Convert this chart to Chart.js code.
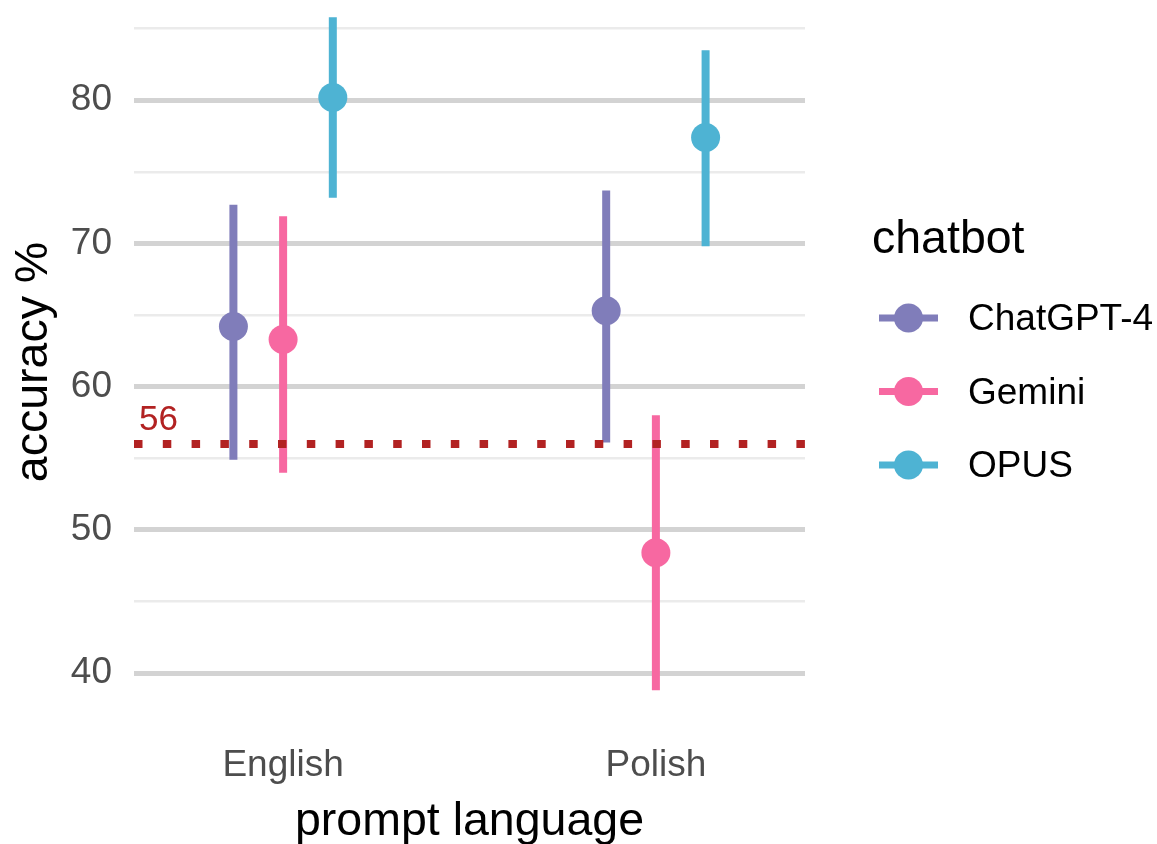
<!DOCTYPE html>
<html>
<head>
<meta charset="utf-8">
<script src="https://cdn.jsdelivr.net/npm/chart.js@4/dist/chart.umd.min.js"></script>
<style>
  body { margin: 0; background: #fff; }
  #wrap { width: 1157px; height: 844px; }
</style>
</head>
<body>
<div id="wrap"><canvas id="chart" width="1157" height="844"></canvas></div>
<script>
// data
const languages = ['English', 'Polish'];
const chatbots = ['ChatGPT-4', 'Gemini', 'OPUS'];
const botColors = ['#807dba', '#f768a1', '#4eb3d3'];

const chatgptMean = [64.2, 65.3];
const chatgptLow  = [54.9, 56.1];
const chatgptHigh = [72.7, 73.7];

const geminiMean = [63.3, 48.4];
const geminiLow  = [54.0, 38.8];
const geminiHigh = [71.9, 58.0];

const opusMean = [80.2, 77.4];
const opusLow  = [73.2, 69.8];
const opusHigh = [85.8, 83.5];

const yTicks = [40, 45, 50, 55, 60, 65, 70, 75, 80, 85];
const threshold = 56;

const means = [chatgptMean, geminiMean, opusMean];
const lows = [chatgptLow, geminiLow, opusLow];
const highs = [chatgptHigh, geminiHigh, opusHigh];

const FONT = '"Liberation Sans", Arial, sans-serif';

// dodge, like position_dodge(0.4)
const dodge = 0.4;
function xPos(langIdx, botIdx) {
  return langIdx + 1 + (botIdx - 1) * dodge / 3;
}

const datasets = [];
// points on top
chatbots.forEach((bot, b) => {
  datasets.push({
    label: bot,
    order: 0,
    data: languages.map((l, i) => ({ x: xPos(i, b), y: means[b][i] })),
    showLine: false,
    pointRadius: 14.5,
    pointBorderWidth: 0,
    pointBackgroundColor: botColors[b],
    backgroundColor: botColors[b]
  });
});
// threshold line
datasets.push({
  label: 'threshold',
  order: 1,
  data: [{ x: 0.6, y: threshold }, { x: 2.4, y: threshold }],
  showLine: true,
  borderColor: '#b22222',
  borderWidth: 8,
  borderDash: [8.5, 20.3],
  borderCapStyle: 'butt',
  pointRadius: 0
});
// error bars
chatbots.forEach((bot, b) => {
  const pts = [];
  languages.forEach((l, i) => {
    pts.push({ x: xPos(i, b), y: lows[b][i] });
    pts.push({ x: xPos(i, b), y: highs[b][i] });
    pts.push({ x: xPos(i, b), y: null });
  });
  datasets.push({
    label: bot + ' range',
    order: 2,
    data: pts,
    showLine: true,
    spanGaps: false,
    borderColor: botColors[b],
    borderWidth: 8,
    borderCapStyle: 'butt',
    pointRadius: 0
  });
});

// label for the threshold + legend on the right
const extras = {
  id: 'extras',
  afterDraw(chart) {
    const ctx = chart.ctx;
    const y = chart.scales.y;
    const area = chart.chartArea;
    ctx.save();
    ctx.fillStyle = '#b22222';
    ctx.font = '35px ' + FONT;
    ctx.textAlign = 'left';
    ctx.textBaseline = 'alphabetic';
    ctx.fillText(String(threshold), area.left + 5, y.getPixelForValue(threshold) - 14);

    // legend
    ctx.fillStyle = '#000';
    ctx.font = '46.5px ' + FONT;
    ctx.fillText('chatbot', 872, 253);
    ctx.font = '37px ' + FONT;
    ctx.textBaseline = 'middle';
    chatbots.forEach((bot, b) => {
      const cy = 318 + b * 73.5;
      ctx.strokeStyle = botColors[b];
      ctx.lineWidth = 7;
      ctx.beginPath();
      ctx.moveTo(879, cy);
      ctx.lineTo(938, cy);
      ctx.stroke();
      ctx.fillStyle = botColors[b];
      ctx.beginPath();
      ctx.arc(908.5, cy, 14.5, 0, Math.PI * 2);
      ctx.fill();
      ctx.fillStyle = '#000';
      ctx.fillText(bot, 968, cy + 2);
    });
    ctx.restore();
  }
};

new Chart(document.getElementById('chart').getContext('2d'), {
  type: 'scatter',
  data: { datasets: datasets },
  plugins: [extras],
  options: {
    responsive: false,
    animation: false,
    events: [],
    layout: { autoPadding: false, padding: { top: 0, right: 352, bottom: 0, left: 0 } },
    plugins: {
      legend: { display: false },
      tooltip: { enabled: false }
    },
    scales: {
      x: {
        type: 'linear',
        min: 0.6,
        max: 2.4,
        afterBuildTicks: (scale) => { scale.ticks = languages.map((l, i) => ({ value: i + 1 })); },
        afterFit: (scale) => {
          scale.height = 120;
          scale.paddingLeft = 0;
          scale.paddingRight = 0;
        },
        grid: { display: false, drawTicks: false },
        border: { display: false },
        ticks: {
          padding: 20,
          color: '#4d4d4d',
          font: { family: FONT, size: 37 },
          callback: (v) => languages[Math.round(v) - 1]
        },
        title: {
          display: true,
          text: 'prompt language',
          color: '#000',
          font: { family: FONT, size: 46.5 },
          padding: { top: 0, bottom: -6 }
        }
      },
      y: {
        type: 'linear',
        min: 36.45,
        max: 87,
        afterBuildTicks: (scale) => { scale.ticks = yTicks.map(v => ({ value: v })); },
        afterFit: (scale) => {
          scale.width = 134;
          scale.paddingTop = 0;
          scale.paddingBottom = 0;
        },
        grid: {
          drawTicks: false,
          color: (c) => (c.tick && c.tick.value % 10 === 0) ? '#d3d3d3' : '#ebebeb',
          lineWidth: (c) => (c.tick && c.tick.value % 10 === 0) ? 5 : 2.5
        },
        border: { display: false },
        ticks: {
          padding: 22,
          color: '#4d4d4d',
          font: { family: FONT, size: 37 },
          callback: (v) => (v % 10 === 0) ? String(v) : ''
        },
        title: {
          display: true,
          text: 'accuracy %',
          color: '#000',
          font: { family: FONT, size: 46.5 },
          padding: { top: 6, bottom: 0 }
        }
      }
    }
  }
});
</script>
</body>
</html>
